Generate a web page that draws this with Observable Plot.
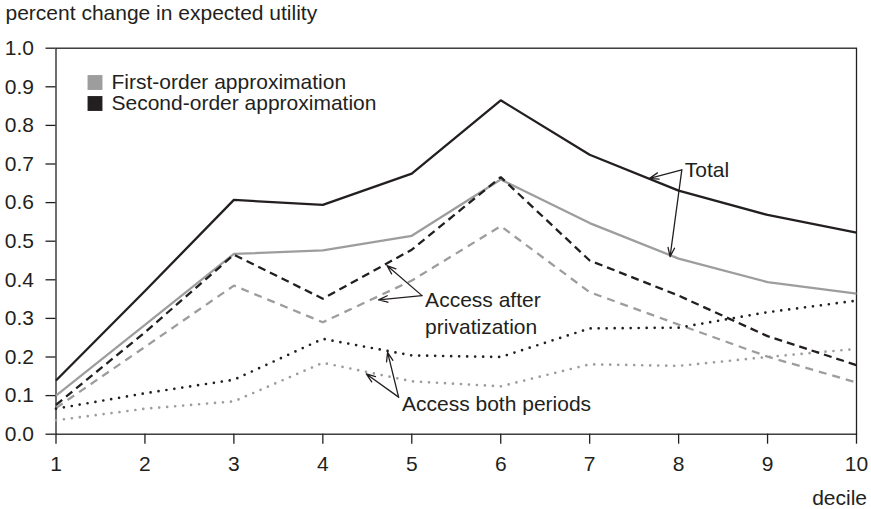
<!DOCTYPE html>
<html><head><meta charset="utf-8">
<script src="https://cdn.jsdelivr.net/npm/d3@7"></script>
<script src="https://cdn.jsdelivr.net/npm/@observablehq/plot@0.6"></script>
<style>
body{margin:0;background:#fff}
#chart{width:871px;height:509px}
</style>
</head><body><div id="chart"></div>
<script>
// ---- data ----
const deciles = [1, 2, 3, 4, 5, 6, 7, 8, 9, 10];
const totalFirst   = [0.100, 0.283, 0.467, 0.476, 0.514, 0.660, 0.547, 0.455, 0.394, 0.364];
const totalSecond  = [0.139, 0.371, 0.607, 0.594, 0.675, 0.865, 0.724, 0.631, 0.568, 0.522];
const afterFirst   = [0.068, 0.226, 0.385, 0.290, 0.398, 0.539, 0.368, 0.284, 0.201, 0.134];
const afterSecond  = [0.076, 0.264, 0.465, 0.351, 0.478, 0.666, 0.450, 0.359, 0.254, 0.179];
const bothFirst    = [0.036, 0.066, 0.085, 0.185, 0.137, 0.124, 0.181, 0.177, 0.200, 0.221];
const bothSecond   = [0.066, 0.106, 0.141, 0.247, 0.204, 0.200, 0.274, 0.276, 0.316, 0.346];
const yTicks = [0, 0.1, 0.2, 0.3, 0.4, 0.5, 0.6, 0.7, 0.8, 0.9, 1.0];
const legendLabels = ["First-order approximation", "Second-order approximation"];
const titleText = "percent change in expected utility";
const xLabelText = "decile";
// annotations (data units)
const annTotal = {text: "Total", x: 8.07, y: 0.688, from: [8.036, 0.685], to: [[7.674, 0.663], [7.904, 0.460]]};
const annAfter = {text: "Access after\nprivatization", x: 5.15, y: 0.317, from: [5.115, 0.359], to: [[4.721, 0.437], [4.627, 0.348]]};
const annBoth  = {text: "Access both periods", x: 4.89, y: 0.083, from: [4.852, 0.096], to: [[4.728, 0.212], [4.489, 0.156]]};

// ---- styles ----
const BLACK = "#231f20", GRAY = "#9d9d9d";
const FONT = "'Liberation Sans', Arial, Helvetica, sans-serif";
const seriesStyle = [
  {vals: totalFirst,  stroke: GRAY,  dash: null,   w: 2.3},
  {vals: afterFirst,  stroke: GRAY,  dash: "8,6",  w: 2.3},
  {vals: bothFirst,   stroke: GRAY,  dash: "0,8",  w: 2.7},
  {vals: totalSecond, stroke: BLACK, dash: null,   w: 2.3},
  {vals: afterSecond, stroke: BLACK, dash: "8,5",  w: 2.3},
  {vals: bothSecond,  stroke: BLACK, dash: "0,8",  w: 2.7}
];

const lineMarks = seriesStyle.map(s =>
  Plot.line(deciles.map((d, i) => ({x: d, y: s.vals[i]})), {
    x: "x", y: "y", stroke: s.stroke, strokeWidth: s.w,
    strokeDasharray: s.dash ?? undefined, strokeLinecap: s.dash === "0,8" ? "round" : "butt",
    strokeLinejoin: "miter"
  })
);

const arrows = [annTotal, annAfter, annBoth].flatMap(a =>
  a.to.map(t => ({x1: a.from[0], y1: a.from[1], x2: t[0], y2: t[1]})));

const chart = Plot.plot({
  width: 871, height: 509,
  marginLeft: 55.5, marginRight: 15, marginTop: 47.7, marginBottom: 75.3,
  style: {fontFamily: FONT, fontSize: "21px", color: BLACK, background: "#fff", overflow: "visible"},
  x: {domain: [1, 10]},
  y: {domain: [0, 1]},
  marks: [
    Plot.axisY({ticks: yTicks, tickFormat: d3.format(".1f"), tickSize: 10, tickPadding: 12,
      stroke: BLACK, strokeWidth: 1.3, label: null, fontSize: 21}),
    Plot.axisX({ticks: deciles, tickFormat: d => String(d), tickSize: 10, tickPadding: 12,
      stroke: BLACK, strokeWidth: 1.3, label: null, fontSize: 21}),
    Plot.frame({stroke: BLACK, strokeWidth: 1.3}),
    ...lineMarks,
    Plot.arrow(arrows, {x1: "x1", y1: "y1", x2: "x2", y2: "y2", stroke: BLACK, strokeWidth: 1.3,
      headLength: 11, headAngle: 40, insetStart: 0, insetEnd: 0}),
    Plot.text([annTotal, annAfter, annBoth], {x: "x", y: "y", text: "text", textAnchor: "start",
      lineAnchor: "middle", lineHeight: 1.29, fontSize: 21, fill: BLACK}),
    // legend
    Plot.dot([legendLabels[0]], {frameAnchor: "top-left", dx: 39, dy: 34.3, symbol: "square", r: 8.4, fill: GRAY}),
    Plot.dot([legendLabels[1]], {frameAnchor: "top-left", dx: 39, dy: 55.3, symbol: "square", r: 8.4, fill: BLACK}),
    Plot.text([legendLabels[0]], {frameAnchor: "top-left", text: d => d, dx: 55.5, dy: 34.3, textAnchor: "start", lineAnchor: "middle", fontSize: 21, fill: BLACK}),
    Plot.text([legendLabels[1]], {frameAnchor: "top-left", text: d => d, dx: 55.5, dy: 55.3, textAnchor: "start", lineAnchor: "middle", fontSize: 21, fill: BLACK}),
    // title & x label
    Plot.text([titleText], {frameAnchor: "top-left", text: d => d, dx: -50.5, dy: -34.7, textAnchor: "start", lineAnchor: "middle", fontSize: 21, fill: BLACK}),
    Plot.text([xLabelText], {frameAnchor: "bottom-right", text: d => d, dx: 10.5, dy: 64.3, textAnchor: "end", lineAnchor: "middle", fontSize: 21, fill: BLACK})
  ]
});
document.getElementById("chart").append(chart);
</script>
</body></html>
